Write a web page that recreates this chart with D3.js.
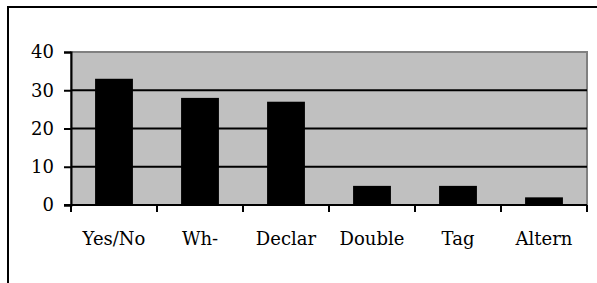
<!DOCTYPE html>
<html>
<head>
<meta charset="utf-8">
<script src="https://cdn.jsdelivr.net/npm/d3@7"></script>
</head>
<body style="margin:0;background:#fff">
<div id="chart"></div>
<script>
const categories = ["Yes/No", "Wh-", "Declar", "Double", "Tag", "Altern"];
const values = [33, 28, 27, 5, 5, 2];
const yTicks = [0, 10, 20, 30, 40];

const FONT = "'DejaVu Serif', serif";

const svg = d3.select("#chart").append("svg")
  .attr("width", 597)
  .attr("height", 283)
  .style("display", "block")

// outer frame, runs off the right and bottom edges
svg.append("rect")
  .attr("x", 8)
  .attr("y", 7)
  .attr("width", 700)
  .attr("height", 400)
  .attr("fill", "none")
  .attr("stroke", "#000")
  .attr("stroke-width", 2)

const x = d3.scaleBand()
  .domain(categories)
  .range([71, 587])
  .paddingInner(0.56)
  .paddingOuter(0.28);

const y = d3.scaleLinear()
  .domain([0, 40])
  .range([205, 52]);

// plot area
svg.append("rect")
  .attr("x", 71)
  .attr("y", y(40))
  .attr("width", 587 - 71)
  .attr("height", y(0) - y(40))
  .attr("fill", "#c0c0c0")
  .attr("stroke", "#808080")
  .attr("stroke-width", 2)

// gridlines
svg.selectAll(".grid")
  .data(yTicks.filter(d => d > 0 && d < 40))
  .join("line")
  .attr("x1", 71)
  .attr("x2", 587)
  .attr("y1", d => y(d))
  .attr("y2", d => y(d))
  .attr("stroke", "#000")
  .attr("stroke-width", 2)

svg.selectAll(".bar")
  .data(values)
  .join("rect")
  .attr("x", (d, i) => x(categories[i]))
  .attr("y", d => y(d))
  .attr("width", x.bandwidth())
  .attr("height", d => y(0) - y(d))
  .attr("fill", "#000")

// y axis
const yAxis = svg.append("g")
  .attr("transform", "translate(71,0)")
  .call(d3.axisLeft(y).tickValues(yTicks).tickSize(7).tickPadding(10))
yAxis.attr("font-family", FONT).attr("font-size", 18)
yAxis.select(".domain").attr("stroke-width", 2)
yAxis.selectAll(".tick line").attr("stroke-width", 2)
yAxis.selectAll("text").attr("fill", "#000")

// x axis with ticks between categories
const xAxisG = svg.append("g")
  .attr("font-family", FONT)
  .attr("font-size", 18)
svg.append("line")
  .attr("x1", 64)
  .attr("x2", 587)
  .attr("y1", y(0))
  .attr("y2", y(0))
  .attr("stroke", "#000")
  .attr("stroke-width", 2)

const edges = d3.range(categories.length + 1).map(i => 71 + i * (587 - 71) / categories.length);
xAxisG.selectAll("line")
  .data(edges)
  .join("line")
  .attr("x1", d => d)
  .attr("x2", d => d)
  .attr("y1", y(0))
  .attr("y2", y(0) + 7)
  .attr("stroke", "#000")
  .attr("stroke-width", 2)

xAxisG.selectAll("text")
  .data(categories)
  .join("text")
  .attr("x", d => x(d) + x.bandwidth() / 2)
  .attr("y", 245)
  .attr("text-anchor", "middle")
  .attr("fill", "#000")
  .text(d => d)
</script>
</body>
</html>
